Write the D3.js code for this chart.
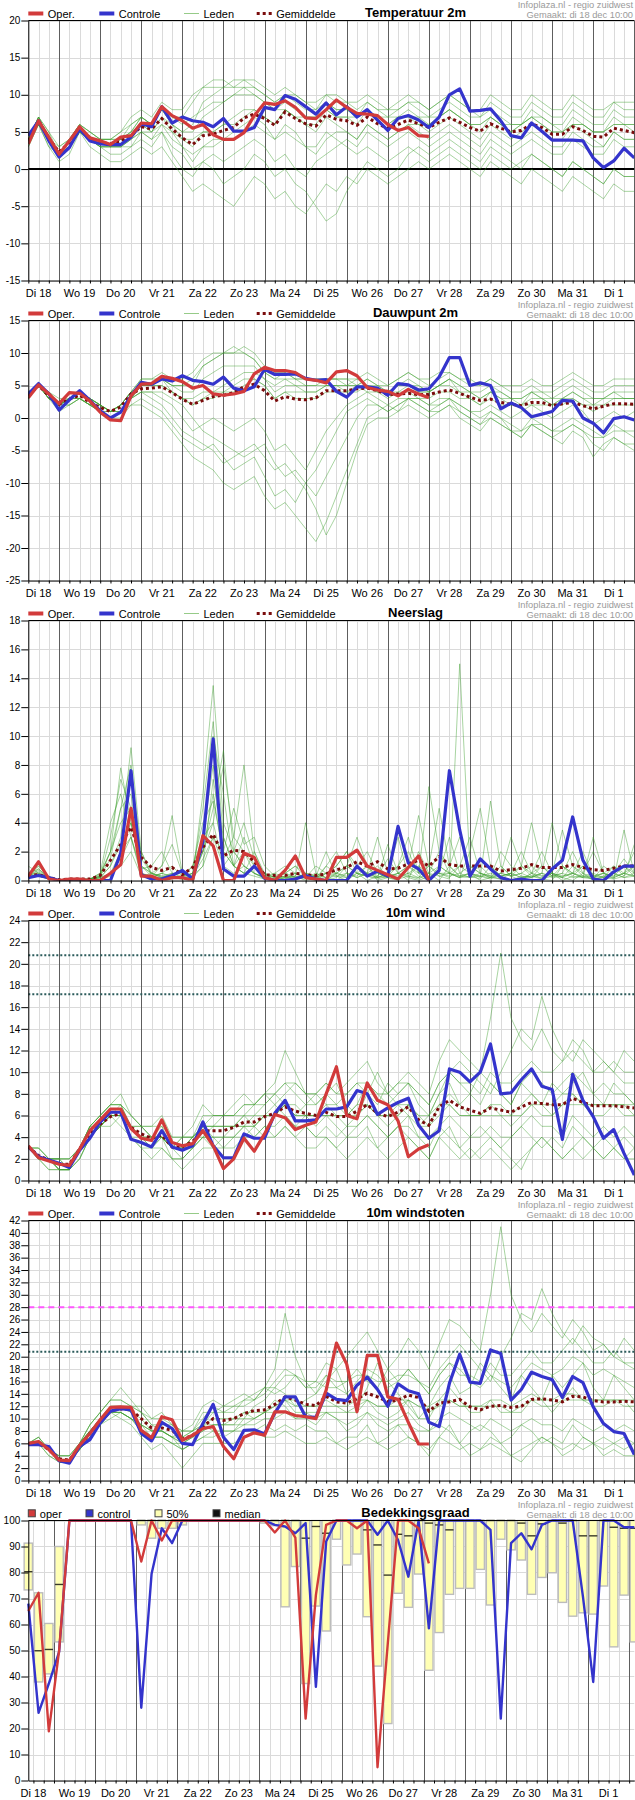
<!DOCTYPE html>
<html>
<head>
<meta charset="utf-8">
<script src="https://cdnjs.cloudflare.com/ajax/libs/d3/7.8.5/d3.min.js"></script>
<style>
  body { margin: 0; background: #fff; }
  text { font-family: "Liberation Sans", Arial, Helvetica, sans-serif; }
</style>
</head>
<body>
<div id="chart"></div>
<script>
// ---- tick labels / categories ----
const dayLabels = ['Di 18','Wo 19','Do 20','Vr 21','Za 22','Zo 23','Ma 24','Di 25','Wo 26','Do 27','Vr 28','Za 29','Zo 30','Ma 31','Di 1'];
const tempTicks = [-15,-10,-5,0,5,10,15,20];
const dewTicks = [-25,-20,-15,-10,-5,0,5,10,15];
const precTicks = [0,2,4,6,8,10,12,14,16,18];
const windTicks = [0,2,4,6,8,10,12,14,16,18,20,22,24];
const gustTicks = [0,2,4,6,8,10,12,14,16,18,20,22,24,26,28,30,32,34,36,38,40,42];
const cloudTicks = [0,10,20,30,40,50,60,70,80,90,100];
const windRefs = [20.8, 17.2];
const gustRefs = [28, 20.8];

// ---- Temperatuur 2m ----
const tempOper = [3.4,6.5,4.3,2.0,3.8,5.7,4.2,3.8,3.3,4.3, 4.5,6.2,6.1,8.4,7.2,6.5,5.5,6.0,4.6,4.0, 4.0,4.9,7.2,8.9,8.7,9.2,8.3,6.9,6.8,8.0, 9.3,8.3,7.5,7.4,7.2,6.0,5.2,5.6,4.5,4.4];
const tempCtrl = [4.5,6.5,3.8,1.6,2.9,5.4,3.8,3.4,3.3,3.3, 4.3,6.1,5.7,8.4,6.2,7.0,6.5,6.3,5.7,6.8, 5.1,5.1,5.6,8.3,8.0,9.9,9.4,8.4,7.4,8.9, 7.3,8.4,7.0,8.0,6.6,5.2,6.8,7.2,6.6,5.6, 7.0,10.0,10.8,7.8,7.9,8.1,6.5,4.5,4.2,6.2, 5.1,3.9,3.9,3.9,3.8,1.5,0.2,1.1,2.8,1.5];
const tempMean = [3.8,6.5,4.1,2.3,3.6,5.4,4.2,3.6,3.4,3.8, 4.5,5.7,5.4,6.8,5.4,4.2,3.3,4.5,4.7,5.2, 5.6,6.9,7.4,6.8,5.9,7.7,6.8,6.1,5.8,7.3, 6.7,6.5,5.9,7.0,6.1,5.5,6.0,6.6,6.1,5.6, 6.3,6.9,6.3,5.6,5.1,6.1,5.5,5.0,5.2,6.1, 5.6,4.7,4.7,5.7,5.2,4.4,4.3,5.5,5.2,4.9];
const tempMembers = [
  [4,7,4,2,4,6,5,4,4,5, 6,7,6,8,7,7,9,11,11,11, 12,12,11,10,9,10,9,8,8,9, 8,8,7,9,8,7,8,9,8,7, 8,9,8,7,7,8,7,6,6,8, 7,6,6,8,7,6,6,8,7,7],
  [4,7,5,3,4,6,5,4,4,5, 7,8,7,9,8,8,10,11,12,12, 11,12,12,11,10,11,10,9,8,10, 9,9,8,9,8,8,9,10,9,8, 9,10,9,8,7,9,8,7,7,9, 8,7,7,9,8,7,7,9,8,8],
  [3,6,4,2,3,5,4,3,3,4, 5,7,6,8,6,5,6,9,10,11, 11,11,10,9,8,8,7,6,5,7, 6,5,4,6,5,4,5,6,5,4, 5,6,5,4,3,5,4,3,4,5, 4,3,3,5,4,3,3,5,4,4],
  [4,6,3,1,2,5,3,2,1,1, 2,3,2,3,1,-1,-3,-2,-3,-4, -5,-3,-1,-2,-4,-3,-5,-6,-4,-2, -3,-1,-2,0,-1,-2,-1,0,1,0, 1,2,1,0,-1,1,0,-1,-2,0, -1,-2,-3,-1,-2,-3,-4,-2,-3,-3],
  [4,6,4,2,3,5,4,3,2,2, 3,4,3,5,2,0,-1,1,0,-2, -1,0,2,1,-1,0,-2,-3,-5,-7, -6,-3,-1,1,0,-1,0,2,3,2, 3,4,3,2,1,3,2,1,0,2, 1,0,-1,1,0,-1,-2,0,-1,-1],
  [4,7,4,2,4,5,4,4,3,4, 5,6,5,7,6,4,3,5,5,6, 6,7,8,7,6,8,7,6,6,8, 7,7,6,8,7,6,7,7,6,6, 7,8,7,6,5,7,6,5,6,7, 6,5,5,6,6,5,5,6,6,5],
  [3,6,4,2,3,5,4,4,3,3, 4,6,5,7,5,3,1,3,4,4, 5,6,7,6,4,6,5,3,2,4, 5,5,4,6,5,4,5,6,6,5, 6,7,6,5,4,6,5,4,5,6, 5,4,4,6,5,4,3,5,4,4],
  [4,7,4,3,4,6,5,4,4,4, 5,7,6,8,7,6,7,8,9,9, 10,10,10,9,8,9,8,7,7,9, 8,8,7,8,7,7,7,8,7,7, 7,8,7,6,6,7,6,6,6,7, 7,6,5,7,6,5,5,7,6,6],
  [4,6,3,2,3,5,4,3,3,3, 3,5,4,5,3,2,0,1,2,1, 2,3,4,3,1,2,0,-1,1,2, 3,4,3,5,4,3,4,5,4,3, 4,5,4,3,2,4,3,2,3,4, 3,2,2,4,3,2,2,4,3,3],
  [4,6,4,2,3,5,4,3,3,3, 4,5,5,6,5,4,4,5,5,6, 7,8,8,7,6,8,7,7,7,8, 7,7,7,8,7,6,7,7,7,6, 7,8,7,6,6,7,6,5,6,7, 6,5,5,6,6,5,5,6,6,6],
  [4,7,5,2,4,6,4,4,4,4, 6,7,6,8,6,5,5,7,8,9, 10,11,11,10,9,10,10,9,9,10, 10,9,9,10,9,8,8,9,9,8, 9,10,9,8,8,10,9,8,8,10, 9,8,8,10,9,8,8,9,9,9],
  [4,6,4,2,3,5,4,3,3,3, 4,5,4,6,4,3,2,3,3,4, 4,5,6,5,4,5,4,3,3,5, 4,3,2,3,2,1,2,3,2,1, 2,3,2,1,0,2,1,0,1,2, 1,0,-1,1,0,-1,-2,0,-1,-1]
];

// ---- Dauwpunt 2m ----
const dewOper = [3.1,5.1,3.7,2.2,3.9,3.8,2.6,0.9,-0.3,-0.4, 3.4,5.2,5.3,6.4,6.1,5.6,4.6,5.0,3.7,3.5, 3.7,4.1,6.8,7.8,7.3,7.3,7.0,6.0,5.8,5.4, 7.1,7.3,6.5,4.7,4.3,4.1,3.4,4.4,3.7,3.1];
const dewCtrl = [3.7,5.3,3.7,1.2,2.8,4.2,2.7,1.1,0.0,0.9, 3.4,5.5,5.2,6.0,5.7,6.5,5.8,5.6,5.2,6.3, 4.6,4.2,4.8,7.5,6.7,6.7,6.8,6.1,5.8,5.9, 4.1,3.2,4.8,4.8,4.6,3.5,5.3,5.1,4.3,4.5, 6.3,9.3,9.3,5.0,5.4,5.0,1.4,2.3,1.6,0.2, 0.6,1.0,2.7,2.6,0.0,-0.8,-2.3,-0.1,0.2,-0.3];
const dewMean = [3.4,5.0,3.4,2.1,2.9,3.5,2.4,1.6,1.0,1.7, 3.7,4.5,4.6,4.8,3.9,2.9,2.1,2.7,3.3,3.5, 3.9,4.8,5.2,4.2,2.6,3.3,2.9,2.8,3.1,4.2, 4.2,4.2,4.5,4.6,4.2,3.6,3.7,3.8,3.6,3.6, 4.0,4.3,3.8,3.2,2.7,2.9,2.4,2.1,1.9,2.4, 2.4,1.9,2.2,2.4,1.9,1.4,1.8,2.2,2.2,2.1];
const dewMembers = [
  [3,5,4,2,3,4,3,2,1,2, 4,6,6,7,6,6,7,9,10,10, 10,11,10,8,7,7,6,6,6,6, 6,5,6,5,5,5,6,7,6,5, 6,7,6,5,5,6,5,4,4,5, 4,4,5,6,5,4,4,5,5,5],
  [3,5,3,2,3,3,2,1,0,1, 3,5,5,6,5,5,5,8,9,10, 11,10,9,7,6,6,6,5,5,5, 5,4,4,5,4,4,5,6,5,4, 5,6,4,3,2,4,3,2,2,4, 3,2,3,4,3,2,3,4,3,3],
  [4,5,3,1,2,3,2,1,0,0, 2,2,1,0,-2,-4,-6,-7,-8,-10, -11,-10,-9,-12,-14,-13,-15,-17,-19,-16, -12,-8,-4,0,1,2,1,3,2,1, 2,3,2,1,0,1,0,-1,-2,0, -1,-2,-1,0,-1,-2,-3,-1,-2,-2],
  [3,5,3,2,2,3,2,1,1,1, 2,3,2,1,-1,-3,-4,-5,-4,-6, -8,-7,-6,-9,-12,-11,-13,-10,-8,-5, -2,1,2,3,2,1,2,3,3,2, 2,3,1,0,-1,1,0,-2,-3,-1, -2,-3,-2,-1,-2,-4,-5,-3,-4,-4],
  [3,5,3,2,3,4,3,2,1,2, 4,5,5,5,4,3,2,3,4,4, 5,6,6,5,3,4,4,4,4,5, 5,5,5,5,4,4,4,5,4,4, 5,5,4,4,3,4,3,3,2,3, 3,2,3,3,2,2,2,3,3,3],
  [3,5,4,2,3,3,2,1,1,1, 3,4,4,3,2,0,-2,-1,0,-1, -2,-1,0,-2,-5,-4,-6,-8,-5,-2, 0,2,3,4,3,2,3,3,3,2, 3,3,2,1,1,2,1,0,1,2, 1,0,1,2,1,-1,0,1,0,1],
  [4,5,4,3,3,4,3,2,1,2, 4,6,6,6,5,5,6,8,9,10, 10,10,9,7,6,7,6,6,6,6, 6,6,5,6,5,4,5,5,5,4, 5,6,5,4,4,5,4,3,3,4, 4,3,4,5,4,3,3,4,4,4],
  [3,5,3,2,3,4,3,2,1,2, 3,5,5,5,4,3,2,3,3,4, 4,5,6,5,3,4,3,3,3,4, 4,4,5,4,4,3,4,4,3,3, 4,4,3,3,2,3,2,2,2,2, 2,2,2,3,2,1,2,2,2,2],
  [3,5,3,2,3,3,2,2,1,1, 3,4,4,4,3,2,0,-2,-3,-4, -5,-6,-5,-4,-7,-9,-8,-10,-12,-9, -6,-3,0,2,2,1,2,3,2,1, 1,2,0,-1,-2,0,-1,-2,-3,-1, -2,-3,-4,-2,-3,-6,-4,-3,-4,-5],
  [3,5,4,2,3,4,3,2,1,2, 4,5,5,6,5,4,4,6,7,8, 8,8,8,6,5,6,5,5,5,6, 6,6,6,7,6,5,6,7,6,6, 7,7,6,6,5,6,5,5,5,6, 5,5,6,7,6,5,5,6,6,6],
  [3,5,3,2,2,3,2,1,0,1, 3,4,3,2,0,-2,-3,-4,-5,-7, -6,-5,-4,-6,-8,-7,-9,-11,-14,-18, -15,-10,-5,-1,0,0,1,2,1,0, 1,2,1,0,-1,0,-1,-2,-2,-1, -1,-2,-2,-1,-2,-3,-3,-2,-2,-3],
  [4,5,4,2,3,4,3,2,1,2, 4,5,5,6,4,3,3,4,4,5, 6,7,7,6,4,5,5,4,4,5, 5,5,5,6,5,4,5,5,4,4, 5,6,5,4,3,4,4,3,3,4, 3,3,3,4,3,3,3,3,3,3]
];

// ---- Neerslag ----
const precOper = [0.3,1.3,0.1,0,0.1,0.1,0,0,0.5,1.1, 5.0,0.3,0.3,0,0.2,0.2,0,3.1,2.4,0, 0,1.9,1.6,0.2,0,0.7,1.7,0.2,0.1,0, 1.6,1.6,2.1,1.0,0.7,0.4,0.1,0.9,1.7,0];
const precCtrl = [0.2,0.35,0.2,0,0,0,0,0,0,1.9, 7.6,0.4,0.1,0.1,0.35,0.7,0.1,2.7,9.8,0.8, 0.3,0.3,1.0,0.15,0,0,0.1,0.35,0.1,0, 0,0,1.0,0.3,0.65,0.3,3.75,1.2,0.8,0, 0.7,7.6,3.5,0.3,1.5,0.8,0.2,0,0.1,0, 0,0.8,1.4,4.4,1.4,0.1,0,0.6,1.0,1.0];
const precMean = [0.35,0.4,0.2,0.05,0.1,0.1,0.1,0.35,1.4,2.5, 3.7,1.6,0.9,0.7,0.9,0.4,0.9,2.3,3.2,1.7, 2.1,2.0,1.3,0.4,0.35,0.35,0.5,0.4,0.35,0.45, 0.75,0.9,1.3,1.0,1.3,0.8,0.85,1.15,1.4,1.0, 1.65,1.1,1.0,1.0,1.0,1.0,0.65,0.75,0.85,1.1, 0.9,0.9,0.9,1.1,0.9,0.75,0.7,0.85,1.0,1.0];
const precMembers = [
  [0.5,0.8,0.2,0,0,0.1,0.1,0.5,2,7.8, 4,1,0.5,0.3,0.5,0.2,1,4,5.5,2, 1,3,1,0.2,0.1,0.5,1,0.2,0,0.5, 1,2,0.5,0,0.3,1.5,0.5,0,2,0.5, 0,1,3,0.5,0,0.2,1,0.3,0,0.5, 2,0.5,0,0.3,1,0.2,0,0.5,1.5,0.5],
  [0.2,0.3,0.1,0,0,0,0.1,0.2,1,3, 9.2,2,0.5,1,4.5,0.5,0.3,6,13.5,4, 2,1,0.5,0.1,0,0,0.2,0.5,0.3,0, 0.5,1,3,1,0,0.2,0.5,1,0.3,0, 1,0.5,0.2,2,5,1,0.3,0,0.1,0.5, 1,0.3,0.5,2,0.5,0,0.3,0.2,0.5,2],
  [0.3,1,0.2,0,0.1,0,0.1,0.3,1.5,5, 6,0.5,0.2,0.5,1,0.3,1,3,4,8, 3,2,1,0.5,0.2,0.1,0.3,0,0.2,1, 0.5,0.2,1,2,0.5,0.2,0,1,4.5,1, 0.3,0.1,15,1,0.5,0.2,0.1,0.5,2,0.5, 0.1,0,1,0.5,0.2,3,0.5,0.1,0.3,1],
  [1,0.5,0.2,0,0,0.1,0,0.2,0.5,1, 2,0.3,0.5,0.2,0.3,0.1,0.5,5,11,3, 1,0.5,2,0.5,0,0.2,0.3,4,0.5,0.2, 0,0.5,0.3,1,0.2,0.5,3,0.3,0.1,0.5, 2,1,0.3,0.5,0.2,5.5,1,0.3,0.5,0.2, 0.5,4,1,0.3,0.2,0.1,1,0.5,0.2,0.5],
  [0.3,0.8,0.2,0,0,0,0.1,0.5,4,6, 3,0.8,1,2,0.5,0.5,0.3,2,6,1.5, 3,8,2,0.3,0.2,0.1,0.5,0.2,0.5,0.2, 0.3,0,0.5,0.3,0.1,0.3,1,2,0.5,6.5, 2,0.5,0.2,0.5,1,0.3,0.5,3,1,0.3, 0.2,0.5,0.2,0,0.5,0.2,0.3,0.5,1,0.3],
  [0.2,0.5,0.1,0,0,0.1,0,0.1,0.3,2, 4,1,0.3,0.2,0.1,0.3,0.5,3,10,6, 1,0.5,0.3,0.1,0.5,1,0.5,0.2,0,1, 2,0.5,0.2,0.5,1,0.3,0.2,0.5,1,0.2, 0.5,3,0.5,0.2,0.3,0.1,0.5,0.3,1,4, 1,0.3,0.2,0.5,0.3,0.5,0.2,0.1,3.5,0.5],
  [0.5,1,0.3,0,0,0.1,0.1,0.3,2,5, 8,1.5,0.5,0.3,0.2,0.1,0.3,1,3,2, 5,2.5,3,1,0.3,0.2,0.1,0.5,0.2,0, 0.2,1,0.5,0.3,0.2,2.5,0.5,0.2,0,0.3, 0.5,0.2,1,3,0.5,0.3,0.1,0,0.3,0.2, 0.5,0.3,1,0.5,2,0.3,0.2,1,0.5,0.3],
  [0.2,0.4,0.1,0,0,0,0.1,0.2,0.5,2, 3,0.3,0.2,0.5,0.3,0.2,0.5,2,4,1, 0.5,1,0.5,0.2,0.1,0.3,0.2,0.1,0.3,0.2, 0.5,0.3,1,0.5,0.2,0.3,0.5,0.3,0.2,0.5, 1,0.5,0.3,0.5,0.3,0.2,0.3,0.5,0.2,0.3, 0.5,0.2,0.3,0.5,0.2,0.3,0.5,0.2,0.5,0.3],
  [0.3,0.6,0.2,0,0,0.1,0.1,0.3,3,7, 5,2,0.3,1,2.5,0.5,0.2,1,7,3, 1,0.5,1,0.3,0.5,0.2,0.3,0.2,0.3,2, 0.3,0.5,0.2,0.5,3,0.5,0.3,0.5,0.2,1, 5,1,0.3,0.2,0.5,0.3,2,1,0.3,0.2, 1,0.5,3.5,1,0.3,0.2,0.5,1,0.3,2.5],
  [0.2,0.3,0.1,0,0,0,0,0.1,0.5,1.5, 3,0.5,0.2,0.1,0.3,0.2,0.1,2,5,9, 2,1,0.5,0.2,0.1,0.3,0.5,0.2,1,0.5, 0.3,0.2,0.5,1,0.3,0.2,0.1,0.3,1,0.5, 0.3,0.5,0.2,0.3,0.1,1,0.3,0.5,0.2,0.3, 0.1,0.3,0.5,0.2,0.3,0.1,0.2,0.5,0.2,0.3],
  [0.4,0.5,0.2,0,0,0,0.1,0.4,2,4, 5,0.5,0.3,0.5,0.2,0.1,0.3,1.5,3,1, 2,4,1.5,0.5,0.2,0.5,1,0.5,0.3,0.5, 1,2,1,0.5,0.2,0.5,1,3,0.5,0.2, 0.5,0.3,0.5,1,0.5,0.2,0.5,0.3,0.5,1, 0.3,0.5,0.2,1,0.5,2,0.5,0.3,1,0.5],
  [0.3,0.7,0.2,0,0,0,0.1,0.2,1,2.5, 4,1,0.5,0.2,0.5,0.3,0.5,3,8,2, 1,2,0.5,0.2,0.3,0.5,0.2,0.3,0.2,0.5, 0.5,1,0.5,0.3,0.5,0.2,0.5,1,0.5,1, 0.5,0.5,1,0.5,0.3,0.5,0.3,0.5,1,0.5, 0.3,0.5,0.3,0.5,1,0.3,0.5,0.3,0.5,1]
];

// ---- 10m wind ----
const windOper = [3.2,2.1,1.8,1.5,1.4,2.9,4.6,5.6,6.6,6.6, 4.8,3.9,3.7,5.6,3.5,3.2,3.4,4.6,3.2,1.1, 2.0,3.9,2.7,4.3,6.1,5.8,4.7,5.1,5.4,8.0, 10.5,6.0,5.7,9.0,7.4,7.0,5.5,2.2,2.9,3.3];
const windCtrl = [3.1,2.2,1.9,1.6,1.2,2.8,3.9,5.4,6.3,6.3, 3.8,3.5,3.1,4.6,3.1,2.8,3.2,5.4,3.2,2.1, 2.1,4.3,3.9,3.9,6.2,7.4,5.5,5.5,5.6,6.6, 6.6,6.8,8.3,8.0,6.1,6.7,7.2,7.6,5.1,3.9, 4.6,10.3,10.0,9.1,10.0,12.6,8.0,8.1,9.3,10.3, 8.7,8.4,3.8,9.8,7.4,5.9,3.9,4.7,2.5,0.5];
const windMean = [3.1,2.3,1.9,1.5,1.5,2.9,4.3,5.2,5.9,6.2, 4.9,4.3,3.9,4.2,3.1,3.1,3.6,4.6,4.6,4.6, 4.9,5.4,5.4,5.9,6.2,6.8,6.4,6.2,6.0,6.3, 5.9,5.9,6.4,7.0,6.2,5.9,6.3,6.8,5.6,5.1, 6.8,7.4,6.8,6.5,6.2,6.7,6.5,6.3,6.8,7.2, 7.1,7.0,7.0,7.6,7.2,6.9,6.9,6.9,6.8,6.7];
const windMembers = [
  [3,2,2,1,1,3,5,6,7,7, 5,5,4,5,3,3,4,5,5,6, 6,7,7,8,9,12,10,8,7,8, 7,6,7,9,8,7,8,9,7,6, 8,10,9,8,7,9,8,7,9,10, 9,8,9,10,9,8,9,8,8,7],
  [3,2,2,2,2,3,4,5,6,6, 4,4,3,4,2,2,3,4,4,3, 4,5,4,5,5,6,5,5,4,5, 4,5,5,6,5,4,5,6,4,3, 5,6,5,4,4,5,4,4,5,6, 5,5,4,6,5,4,5,4,5,4],
  [3,3,2,1,1,3,5,5,6,7, 6,5,5,6,4,4,5,7,6,6, 7,8,7,7,8,9,8,7,8,9, 8,9,10,11,9,8,9,10,9,8, 11,13,12,11,10,15,21,15,13,12, 14,12,11,13,12,10,11,10,9,9],
  [3,2,1,1,1,2,4,5,6,5, 4,3,2,3,2,1,2,3,3,3, 3,4,5,4,4,5,4,3,3,4, 3,2,3,4,3,2,3,4,3,2, 4,3,2,3,2,3,2,1,2,3, 4,3,2,3,2,3,2,3,2,3],
  [3,2,2,2,2,3,5,6,7,8, 6,5,4,4,3,4,4,5,6,6, 6,6,7,8,7,8,9,8,8,7, 7,8,9,8,7,9,8,9,8,7, 9,10,11,10,9,8,10,12,14,13, 17,14,12,11,13,12,11,10,12,11],
  [3,2,2,2,1,3,4,5,6,6, 5,4,4,4,3,3,3,4,4,4, 5,5,5,6,6,7,7,6,6,6, 6,5,6,7,6,6,6,7,6,5, 6,7,6,6,6,6,6,5,6,7, 6,6,7,7,7,6,6,7,6,6],
  [3,3,2,1,1,3,5,6,7,7, 5,4,4,4,3,2,3,5,4,4, 4,5,6,7,8,7,6,7,7,8, 9,7,6,8,10,8,7,6,5,6, 8,9,7,8,10,9,8,7,9,8, 7,9,8,9,10,8,7,9,8,7],
  [3,2,2,1,1,2,4,5,5,6, 5,4,3,4,3,3,4,4,5,5, 5,6,5,6,7,6,5,6,5,6, 5,4,5,6,5,4,5,5,4,4, 5,4,3,4,5,4,3,4,5,4, 3,4,3,5,4,3,4,3,4,3],
  [3,2,2,2,2,3,4,5,6,6, 5,5,4,4,3,4,4,5,5,5, 5,6,6,6,6,7,6,6,6,7, 6,6,7,7,6,6,7,7,6,6, 7,7,6,6,6,7,7,6,7,8, 7,7,8,8,7,7,7,7,7,7],
  [3,2,1,1,1,2,4,5,6,6, 4,3,3,3,2,2,3,4,3,4, 4,4,4,5,4,5,4,5,4,4, 3,4,4,5,3,4,5,4,3,2, 4,5,3,2,3,4,3,2,1,3, 4,3,2,3,4,3,2,3,2,2],
  [3,3,2,1,1,3,5,6,7,7, 6,5,5,5,4,4,4,6,6,6, 6,7,7,8,8,9,9,8,8,9, 8,8,9,9,8,8,9,9,8,7, 9,10,9,9,8,10,9,9,10,11, 10,10,11,12,11,10,10,11,10,10],
  [3,2,2,2,1,3,4,5,6,6, 5,4,4,4,3,3,4,5,5,5, 5,5,5,6,6,7,6,6,6,6, 6,6,6,7,6,5,6,7,5,5, 7,8,7,6,6,7,6,6,6,7, 7,6,7,8,7,7,7,7,7,6]
];

// ---- 10m windstoten ----
const gustOper = [6.0,6.3,5.0,3.3,3.2,5.7,7.6,9.8,11.8,11.9, 11.8,8.1,6.9,10.3,9.8,6.5,7.3,8.4,8.7,5.5, 3.5,7.0,7.7,7.3,11.1,11.1,10.5,10.3,10.0,14.6, 22.2,18.8,11.1,20.2,20.2,13.5,13.1,9.4,5.9,5.9];
const gustCtrl = [5.8,5.8,5.5,3.2,2.8,5.5,6.6,9.3,11.2,11.6, 11.4,7.6,6.4,9.4,8.4,6.0,5.8,9.2,12.3,7.0, 5.0,8.1,8.2,7.5,10.9,13.5,13.5,10.3,10.2,14.1, 13.1,12.9,15.4,16.7,14.7,12.0,15.6,14.5,14.0,9.4, 8.7,15.7,20.4,15.9,15.7,21.1,20.5,13.0,14.7,17.5, 16.8,16.3,13.4,16.8,15.8,11.9,9.2,7.9,7.6,4.2];
const gustMean = [5.9,6.0,5.0,3.5,3.3,5.5,7.6,9.7,11.2,11.6, 11.4,10.0,8.5,8.5,8.1,6.7,7.3,8.7,10.0,9.7, 10.0,10.8,11.3,11.4,12.3,13.5,13.0,12.3,12.1,13.6, 12.7,12.5,13.2,14.1,13.5,12.7,13.0,13.8,13.4,11.2, 12.5,12.7,13.1,11.9,11.4,12.0,12.1,11.8,12.0,13.1, 13.2,13.0,12.7,13.6,13.5,12.9,12.7,12.7,12.8,12.7];
const gustMembers = [
  [6,6,5,3,3,6,8,10,12,12, 12,11,9,9,9,7,8,10,12,11, 12,13,14,15,18,27,20,16,14,17, 15,14,16,18,17,15,16,18,16,14, 17,19,18,16,15,17,16,15,17,19, 18,17,18,20,19,17,18,17,16,15],
  [6,6,5,4,4,6,8,9,11,11, 10,9,7,7,6,5,6,7,8,7, 8,9,9,10,10,11,10,10,9,11, 10,9,10,11,10,9,10,11,9,8, 10,11,10,9,8,10,9,8,9,10, 9,9,8,10,9,8,9,8,9,8],
  [6,7,5,3,3,6,9,11,13,13, 12,12,10,11,9,8,9,12,13,12, 13,14,13,14,16,18,17,15,16,19, 18,20,22,24,21,18,20,23,21,18, 22,26,25,23,21,30,41,30,26,24, 27,25,23,26,24,21,22,20,19,18],
  [6,6,4,3,3,5,7,9,11,10, 9,7,5,6,4,2,4,6,6,6, 6,7,8,7,7,8,7,6,6,7, 6,5,6,7,6,5,6,7,6,5, 7,6,5,6,5,6,5,4,5,6, 7,6,5,6,5,6,5,6,5,6],
  [6,6,5,4,4,6,9,11,13,15, 13,11,9,8,7,8,8,9,11,12, 12,12,13,15,14,15,17,16,16,15, 15,16,18,16,15,18,16,18,16,15, 18,20,22,20,18,16,20,23,27,26, 31,27,24,22,25,23,22,20,23,21],
  [6,6,5,3,3,5,7,9,11,11, 10,9,8,8,7,6,7,8,9,9, 10,10,10,11,12,13,13,12,12,12, 12,11,12,13,12,12,12,13,12,11, 12,13,12,12,12,12,12,11,12,13, 12,12,13,13,13,12,12,13,12,12],
  [6,7,5,3,3,6,8,10,12,12, 11,9,8,8,7,5,6,9,8,8, 8,10,12,13,15,14,12,13,14,16, 18,14,12,15,19,16,14,12,10,12, 15,17,14,15,19,17,15,13,17,15, 13,17,15,17,19,15,13,17,15,13],
  [6,6,5,3,3,5,7,9,10,11, 10,8,7,7,6,6,7,8,9,9, 9,11,10,11,13,12,10,11,10,11, 10,8,9,11,9,8,9,9,8,8, 9,8,6,8,9,8,6,7,9,8, 6,7,6,9,7,6,7,6,7,6],
  [6,6,5,4,4,6,8,10,11,12, 11,10,8,8,7,7,8,9,10,10, 10,11,11,11,12,13,12,12,12,13, 12,12,13,13,12,12,13,13,12,12, 13,13,12,12,12,13,13,12,13,14, 13,13,14,14,13,13,13,13,13,13],
  [6,6,4,3,3,5,7,9,11,11, 10,8,7,7,6,5,6,7,7,8, 8,8,8,9,8,9,8,9,8,8, 6,7,7,9,6,7,9,7,6,4, 7,9,6,4,5,7,6,4,3,5, 7,6,4,5,7,6,4,5,4,4],
  [6,7,5,3,3,6,9,11,13,13, 12,11,10,10,9,8,8,11,11,11, 11,13,13,15,15,17,17,15,15,17, 16,16,17,17,16,16,17,17,16,14, 17,19,17,17,16,19,17,17,19,21, 19,19,21,23,21,19,19,21,19,19],
  [6,6,5,3,3,6,8,9,11,11, 10,9,8,8,7,6,7,9,9,9, 9,9,10,11,11,13,11,11,11,11, 11,11,11,13,11,10,11,13,10,10, 13,15,13,11,11,13,11,11,11,13, 13,11,13,15,13,13,13,13,13,11]
];

// ---- Bedekkingsgraad ----
const cloudOper = [65.2,72.2,18.9,50,100,100,100,100,100,100, 100,84.2,100,92.3,100,100,100,100,100,100, 100,100,100,100,95.4,100,93.4,23.8,71.3,98.3, 100,100,97,100,5.1,52.7,100,100,97,83.5];
const cloudCtrl = [68,26,37.3,49.5,100,100,100,100,100,100, 100,28,79.4,97,91.3,100,100,100,100,100, 100,100,100,100,98.3,97.7,95.1,99,36,91.9, 100,100,100,100,94.5,100,92.5,78.4,100,58.5, 100,100,100,100,100,96.4,23.8,91.3,95.1,88.9, 98.3,100,100,100,70.7,37.9,100,100,97.4,97.4];
const cloudHi = [91.3,72.2,60.4,90,100,100,100,100,100,100, 100,100,100,100,100,100,100,100,100,100, 100,100,100,100,100,100,100,100,100,100, 100,100,100,100,100,100,100,100,100,100, 100,100,100,100,100,100,100,100,100,100, 100,100,100,100,100,100,100,100,100,100];
const cloudLo = [73.3,37.9,41,53.3,100,100,100,100,100,100, 100,98.3,93.2,97,97,98.3,100,100,100,100, 100,100,100,99,98,66.8,82.3,37.3,67.1,57.5, 92.8,82.9,87.1,63,44,21.9,72,66.6,79.4,42.4, 56.9,71.6,73.9,73.9,81.2,67.5,92.8,88.7,84.8,71.6, 78.1,79.9,68.5,63.2,64.5,64,74.8,51.4,71.3,53.3];
const cloudMed = [80.3,49.9,50.4,75.4,100,100,100,100,100,100, 100,100,100,100,100,100,100,100,100,100, 100,100,100,100,100,100,100,93.2,97.7,95.1, 100,100,100,96.4,90.6,79,94.7,94.1,100,99, 98.3,96.4,100,100,100,100,100,100,99,94.1, 98.7,100,99,100,94.1,94.1,100,97.4,97,97];

// ---- layout ----
const W = 635, H = 1800, PH = 300;
const X0 = 28.3, X1 = 634.3, YT = 20.5, YB = 280.5;
const SIX = 6 * 3600e3;
const t0 = Date.UTC(2018, 11, 18, 6);
const t0c = Date.UTC(2018, 11, 18, 9);
const times = d3.range(60).map(i => new Date(t0 + i * SIX));
const cloudTimes = d3.range(60).map(i => new Date(t0c + i * SIX));

const x = d3.scaleUtc()
  .domain([new Date(t0), new Date(Date.UTC(2019, 0, 2, 0))])
  .range([X0, X1]);
const x6 = d3.scaleUtc()
  .domain([new Date(t0c), new Date(Date.UTC(2019, 0, 2, 3))])
  .range([X0, X1]);

const RED = '#d23b3b', BLUE = '#3434cc', GREEN = '#3f9f2f', MEAN = '#7a0c0c';
const crisp = v => Math.round(v) + 0.5;

const svg = d3.select('#chart').append('svg')
  .attr('width', W).attr('height', H)
  .style('display', 'block');
svg.append('rect').attr('width', W).attr('height', H).attr('fill', '#fff');

function drawGrid(g, xs, y, ticks) {
  const [d0, d1] = xs.domain();
  g.append('g').selectAll('line')
    .data(d3.utcHour.every(6).range(d0, d1))
    .join('line')
    .attr('x1', d => crisp(xs(d))).attr('x2', d => crisp(xs(d)))
    .attr('y1', YT).attr('y2', YB)
    .attr('stroke', '#dadada');
  g.append('g').selectAll('line')
    .data(ticks)
    .join('line')
    .attr('x1', X0).attr('x2', X1)
    .attr('y1', d => crisp(y(d))).attr('y2', d => crisp(y(d)))
    .attr('stroke', '#dadada');
  g.append('g').selectAll('line')
    .data(d3.utcDay.range(new Date(+d0 + 1), new Date(+d1 + 1)))
    .join('line')
    .attr('x1', d => crisp(xs(d))).attr('x2', d => crisp(xs(d)))
    .attr('y1', YT).attr('y2', YB)
    .attr('stroke', '#5e5e5e');
}

function drawAxes(g, xs, y, ticks) {
  g.append('g')
    .attr('transform', `translate(${X0},0)`)
    .attr('font-size', 11)
    .attr('font-family', '"Liberation Sans", Arial, sans-serif')
    .call(d3.axisLeft(y).tickValues(ticks).tickSize(7).tickSizeOuter(0).tickPadding(1).tickFormat(d => String(d)))
    .call(a => a.selectAll('text').attr('fill', '#000'))
    .call(a => a.selectAll('line, .domain').attr('stroke', '#000'));
  g.append('g')
    .attr('transform', `translate(0,${YB})`)
    .call(d3.axisBottom(xs).ticks(d3.utcHour.every(6)).tickSize(3).tickSizeOuter(0).tickFormat(''))
    .call(a => a.selectAll('line, .domain').attr('stroke', '#000'));
  g.append('line')
    .attr('x1', X0).attr('x2', X1).attr('y1', YT).attr('y2', YT)
    .attr('stroke', '#000');
  g.append('g').selectAll('text')
    .data(dayLabels)
    .join('text')
    .attr('x', (d, i) => xs(new Date(Date.UTC(2018, 11, 18 + i, 12))))
    .attr('y', 296.5)
    .attr('text-anchor', 'middle')
    .attr('font-size', 11)
    .text(d => d);
}

function drawHeader(g, title) {
  g.append('text')
    .attr('x', 415.5).attr('y', 17)
    .attr('text-anchor', 'middle')
    .attr('font-size', 13).attr('font-weight', 'bold')
    .text(title);
  g.append('text')
    .attr('x', 633).attr('y', 8.3)
    .attr('text-anchor', 'end')
    .attr('font-size', 9.3).attr('fill', '#9a9a9a')
    .text('Infoplaza.nl - regio zuidwest');
  g.append('text')
    .attr('x', 633).attr('y', 17.8)
    .attr('text-anchor', 'end')
    .attr('font-size', 9.3).attr('fill', '#9a9a9a')
    .text('Gemaakt: di 18 dec 10:00');
}

function drawLegend(g) {
  const items = [
    { label: 'Oper.', x: 28.3, stroke: RED, w: 4, dash: null, op: 1 },
    { label: 'Controle', x: 99.3, stroke: BLUE, w: 4, dash: null, op: 1 },
    { label: 'Leden', x: 184, stroke: '#7dbf6b', w: 1, dash: null, op: 0.8 },
    { label: 'Gemiddelde', x: 256.7, stroke: MEAN, w: 3, dash: '3,3', op: 1 }
  ];
  const it = g.append('g').selectAll('g').data(items).join('g');
  it.append('line')
    .attr('x1', d => d.x).attr('x2', d => d.x + 15)
    .attr('y1', 13.5).attr('y2', 13.5)
    .attr('stroke', d => d.stroke).attr('stroke-width', d => d.w)
    .attr('stroke-dasharray', d => d.dash).attr('opacity', d => d.op);
  it.append('text')
    .attr('x', d => d.x + 19.5).attr('y', 17.5)
    .attr('font-size', 11)
    .text(d => d.label);
}

const panels = [
  { title: 'Temperatuur 2m', domain: [-15, 20], ticks: tempTicks, oper: tempOper, ctrl: tempCtrl, mean: tempMean, members: tempMembers, zero: true, refs: [] },
  { title: 'Dauwpunt 2m', domain: [-25, 15], ticks: dewTicks, oper: dewOper, ctrl: dewCtrl, mean: dewMean, members: dewMembers, refs: [] },
  { title: 'Neerslag', domain: [0, 18], ticks: precTicks, oper: precOper, ctrl: precCtrl, mean: precMean, members: precMembers, refs: [] },
  { title: '10m wind', domain: [0, 24], ticks: windTicks, oper: windOper, ctrl: windCtrl, mean: windMean, members: windMembers,
    refs: windRefs.map(v => ({ v, c: '#2b5b5b', dash: '2,2' })) },
  { title: '10m windstoten', domain: [0, 42], ticks: gustTicks, oper: gustOper, ctrl: gustCtrl, mean: gustMean, members: gustMembers,
    refs: gustRefs.map((v, i) => i === 0 ? { v, c: '#ff55ff', dash: '6,4' } : { v, c: '#2b5b5b', dash: '2,2' }) }
];

panels.forEach((p, k) => {
  const g = svg.append('g').attr('transform', `translate(0,${k * PH})`);
  const y = d3.scaleLinear().domain(p.domain).range([YB, YT]);
  drawGrid(g, x, y, p.ticks);

  g.append('clipPath').attr('id', 'clip' + k)
    .append('rect')
    .attr('x', X0).attr('y', YT).attr('width', X1 - X0).attr('height', YB - YT);
  const plot = g.append('g').attr('clip-path', `url(#clip${k})`);

  if (p.zero) {
    plot.append('line')
      .attr('x1', X0).attr('x2', X1).attr('y1', y(0)).attr('y2', y(0))
      .attr('stroke', '#000').attr('stroke-width', 2);
  }

  const line = d3.line().x((d, i) => x(times[i])).y(d => y(d));

  plot.append('g').selectAll('path')
    .data(p.members)
    .join('path')
    .attr('d', line)
    .attr('fill', 'none')
    .attr('stroke', GREEN).attr('stroke-width', 1)
    .attr('stroke-opacity', 0.45);

  plot.selectAll('.ref')
    .data(p.refs)
    .join('line')
    .attr('x1', X0).attr('x2', X1)
    .attr('y1', d => y(d.v)).attr('y2', d => y(d.v))
    .attr('stroke', d => d.c).attr('stroke-width', 2)
    .attr('stroke-dasharray', d => d.dash);

  plot.append('path').datum(p.mean)
    .attr('d', line).attr('fill', 'none')
    .attr('stroke', MEAN).attr('stroke-width', 3)
    .attr('stroke-dasharray', '3,3');
  plot.append('path').datum(p.ctrl)
    .attr('d', line).attr('fill', 'none')
    .attr('stroke', BLUE).attr('stroke-width', 3.2)
    .attr('stroke-linejoin', 'round');
  plot.append('path').datum(p.oper)
    .attr('d', line).attr('fill', 'none')
    .attr('stroke', RED).attr('stroke-width', 3.2)
    .attr('stroke-linejoin', 'round');

  drawAxes(g, x, y, p.ticks);
  drawLegend(g);
  drawHeader(g, p.title);
});

// ---- panel 6: Bedekkingsgraad ----
{
  const g = svg.append('g').attr('transform', `translate(0,${5 * PH})`);
  const y = d3.scaleLinear().domain([0, 100]).range([YB, YT]);
  drawGrid(g, x6, y, cloudTicks);

  const bars = cloudTimes.map((t, j) => ({ t, lo: cloudLo[j], hi: cloudHi[j], med: cloudMed[j] }))
    .filter(d => d.hi > d.lo);
  const BW = 8.3;
  g.append('g').selectAll('rect')
    .data(bars)
    .join('rect')
    .attr('x', d => x6(d.t) - BW / 2)
    .attr('y', d => y(d.hi))
    .attr('width', BW)
    .attr('height', d => y(d.lo) - y(d.hi))
    .attr('fill', '#ffffb4')
    .attr('stroke', '#bcbcbc').attr('stroke-width', 1.4);
  g.append('g').selectAll('line')
    .data(bars)
    .join('line')
    .attr('x1', d => x6(d.t) - BW / 2).attr('x2', d => x6(d.t) + BW / 2)
    .attr('y1', d => y(d.med)).attr('y2', d => y(d.med))
    .attr('stroke', '#3a3a2a').attr('stroke-width', 1.4);

  const line6 = d3.line().x((d, i) => x6(cloudTimes[i])).y(d => y(d));
  g.append('path').datum(cloudCtrl)
    .attr('d', line6).attr('fill', 'none')
    .attr('stroke', BLUE).attr('stroke-width', 2.4).attr('stroke-linejoin', 'round');
  g.append('path').datum(cloudOper)
    .attr('d', line6).attr('fill', 'none')
    .attr('stroke', RED).attr('stroke-width', 2.4).attr('stroke-linejoin', 'round');

  drawAxes(g, x6, y, cloudTicks);

  const items = [
    { label: 'oper', x: 28.3, fill: RED },
    { label: 'control', x: 86, fill: BLUE },
    { label: '50%', x: 155, fill: '#ffffb4' },
    { label: 'median', x: 213, fill: '#111' }
  ];
  const it = g.append('g').selectAll('g').data(items).join('g');
  it.append('rect')
    .attr('x', d => d.x).attr('y', 9.8)
    .attr('width', 7).attr('height', 7)
    .attr('fill', d => d.fill)
    .attr('stroke', '#444').attr('stroke-width', 1);
  it.append('text')
    .attr('x', d => d.x + 11.5).attr('y', 17.5)
    .attr('font-size', 11)
    .text(d => d.label);
  drawHeader(g, 'Bedekkingsgraad');
}
</script>
</body>
</html>
